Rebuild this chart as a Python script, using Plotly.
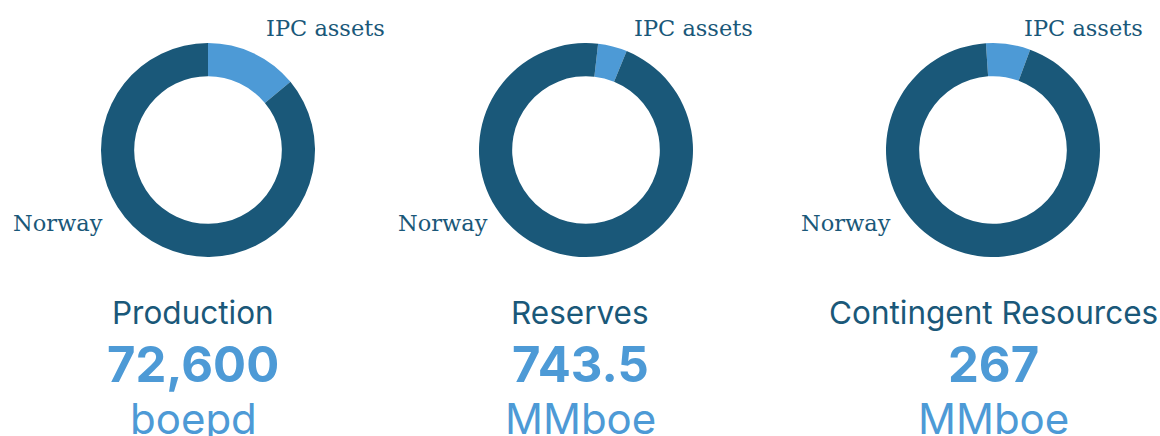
import plotly.graph_objects as go

W, H = 1160, 436

# Data
segments = ["IPC assets", "Norway"]
production_share = [14.0, 86.0]
reserves_share = [4.4, 95.6]
contingent_share = [6.7, 93.3]
titles = ["Production", "Reserves", "Contingent Resources"]
headline_values = ["72,600", "743.5", "267"]
units = ["boepd", "MMboe", "MMboe"]
rotations = [0, 6.5, -3.8]

DARK = "#1a5879"
LIGHT = "#4d9ad6"

fig = go.Figure()

centers_x = [208, 586, 993]
cy = 150
R = 107
series = [production_share, reserves_share, contingent_share]
for i, (vals, cx) in enumerate(zip(series, centers_x)):
    fig.add_trace(go.Pie(
        labels=segments,
        values=vals,
        hole=0.69,
        sort=False,
        direction="clockwise",
        rotation=rotations[i],
        marker=dict(colors=[LIGHT, DARK], line=dict(width=0)),
        textinfo="none",
        hoverinfo="label+percent",
        showlegend=False,
        domain=dict(x=[(cx - R) / W, (cx + R) / W],
                    y=[1 - (cy + R) / H, 1 - (cy - R) / H]),
    ))

def px(x):
    return x / W

def py(y):
    return 1 - y / H

ann = []
serif = "DejaVu Serif"
sans = "Inter"
ipc_left = [264, 632, 1022]
norway_right = [105, 490, 893]
text_cx = [193, 580, 993]
for i in range(3):
    ann.append(dict(x=px(ipc_left[i]), y=py(28), xref="paper", yref="paper",
                    text=segments[0], showarrow=False, xanchor="left", yanchor="middle",
                    font=dict(family=serif, size=22.5, color=DARK)))
    ann.append(dict(x=px(norway_right[i]), y=py(223), xref="paper", yref="paper",
                    text=segments[1], showarrow=False, xanchor="right", yanchor="middle",
                    font=dict(family=serif, size=22.5, color=DARK)))
    ann.append(dict(x=px(text_cx[i]), y=py(312), xref="paper", yref="paper",
                    text=titles[i], showarrow=False, xanchor="center", yanchor="middle",
                    font=dict(family=sans, size=31.5, color=DARK)))
    ann.append(dict(x=px(text_cx[i]), y=py(364), xref="paper", yref="paper",
                    text="<b>" + headline_values[i] + "</b>", showarrow=False,
                    xanchor="center", yanchor="middle",
                    font=dict(family=sans, size=49, color=LIGHT)))
    ann.append(dict(x=px(text_cx[i]), y=py(418), xref="paper", yref="paper",
                    text=units[i], showarrow=False, xanchor="center", yanchor="middle",
                    font=dict(family=sans, size=42, color=LIGHT)))

fig.update_layout(
    width=W, height=H,
    margin=dict(l=0, r=0, t=0, b=0),
    paper_bgcolor="white", plot_bgcolor="white",
    annotations=ann,
)

fig.write_html("out.html", config={"displayModeBar": False},
               post_script="document.body.style.margin='0';document.body.style.overflow='hidden';")
